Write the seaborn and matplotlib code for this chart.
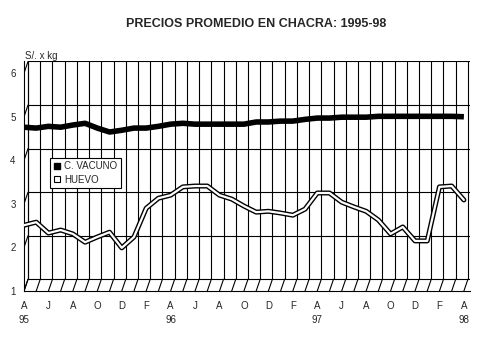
import numpy as np
import pandas as pd
import matplotlib
matplotlib.use("Agg")
import matplotlib.pyplot as plt
import seaborn as sns
from matplotlib import patheffects as pe
from matplotlib.lines import Line2D

# ---- data (monthly, Apr 1995 .. Apr 1998) ----
vacuno = [4.76, 4.74, 4.78, 4.76, 4.81, 4.85, 4.74, 4.65, 4.69, 4.74, 4.74, 4.78,
          4.83, 4.85, 4.83, 4.83, 4.83, 4.83, 4.83, 4.88, 4.88, 4.90, 4.90, 4.94,
          4.97, 4.97, 4.99, 4.99, 4.99, 5.01, 5.01, 5.01, 5.01, 5.01, 5.01, 5.01, 5.00]
huevo = [2.51, 2.58, 2.33, 2.40, 2.31, 2.12, 2.24, 2.35, 1.99, 2.24, 2.90, 3.13,
         3.20, 3.39, 3.41, 3.41, 3.20, 3.11, 2.95, 2.81, 2.83, 2.79, 2.74, 2.88,
         3.25, 3.25, 3.04, 2.93, 2.83, 2.63, 2.31, 2.47, 2.15, 2.15, 3.39, 3.41, 3.09]
tick_labels = ["A\n95", "J", "A", "O", "D", "F", "A\n96", "J", "A", "O", "D", "F",
               "A\n97", "J", "A", "O", "D", "F", "A\n98"]
y_ticks = [1, 2, 3, 4, 5, 6]
series_names = ["C. VACUNO", "HUEVO"]

n = len(vacuno)
df = pd.DataFrame({"t": np.arange(n), "C. VACUNO": vacuno, "HUEVO": huevo})

sns.set_style("white")
plt.rcParams["font.family"] = ["Liberation Sans", "DejaVu Sans"]

fig = plt.figure(figsize=(4.79, 3.59), dpi=100)
ax = fig.add_axes([24 / 479, 1 - 291 / 359, 446 / 479, 230 / 359])
ax.set_xlim(0, n - 1 + 0.5)
ax.set_ylim(1, 6.28)

dx, dy = 0.33, 0.27   # pseudo-3D depth offset
lc = "black"
glw = 0.8
# back wall horizontal grid
for k in y_ticks:
    ax.plot([dx, n - 1 + 0.5], [k + dy, k + dy], color=lc, lw=glw, zorder=1)
    ax.plot([0, dx], [k, k + dy], color=lc, lw=glw, zorder=1)
# back wall vertical grid + floor diagonals
for i in range(n):
    ax.plot([i + dx, i + dx], [1 + dy, 6 + dy], color=lc, lw=glw, zorder=1)
    ax.plot([i, i + dx], [1, 1 + dy], color=lc, lw=glw, zorder=1)
ax.plot([dx, dx], [1 + dy, 6 + dy], color=lc, lw=glw, zorder=1)

# series
sns.lineplot(data=df, x="t", y="C. VACUNO", ax=ax, color="black", lw=4.0,
             legend=False, zorder=5, solid_capstyle="butt")
sns.lineplot(data=df, x="t", y="HUEVO", ax=ax, color="white", lw=1.6,
             legend=False, zorder=5,
             path_effects=[pe.Stroke(linewidth=3.6, foreground="black"), pe.Normal()])

# axes styling
for s in ["top", "right"]:
    ax.spines[s].set_visible(False)
for s in ["left", "bottom"]:
    ax.spines[s].set_color("black")
    ax.spines[s].set_linewidth(glw)
ax.set_xticks(np.arange(n))
labels = []
for i in range(n):
    labels.append(tick_labels[i // 2] if i % 2 == 0 else "")
ax.set_xticklabels(labels, fontsize=7, linespacing=1.5, va="top")
ax.set_yticks(y_ticks)
ax.set_yticklabels([str(v) for v in y_ticks], fontsize=7)
ax.tick_params(axis="x", direction="out", length=3, width=glw, color="black", pad=4)
ax.tick_params(axis="y", direction="out", length=3, width=glw, color="black", pad=3)
ax.set_xlabel("")
ax.set_ylabel("")

# legend
handles = [Line2D([], [], marker="s", ls="", color="black", markersize=5),
           Line2D([], [], marker="s", ls="", markerfacecolor="white",
                  markeredgecolor="black", markersize=5, markeredgewidth=0.8)]
leg = ax.legend(handles, series_names, loc="upper left",
                bbox_to_anchor=((50 - 24) / 446, (291 - 158) / 230),
                frameon=True, fancybox=False, framealpha=1, edgecolor="black",
                fontsize=7, handlelength=0.8, handletextpad=0.3,
                borderpad=0.35, labelspacing=0.35, borderaxespad=0)
leg.get_frame().set_linewidth(0.8)
leg.set_zorder(10)

fig.text(256 / 479, 1 - 24 / 359, "PRECIOS PROMEDIO EN CHACRA: 1995-98",
         ha="center", va="center", fontsize=9, fontweight="bold")
fig.text(25 / 479, 1 - 56 / 359, "S/. x kg", ha="left", va="center", fontsize=7)

fig.savefig("out.png", dpi=100, facecolor="white")
